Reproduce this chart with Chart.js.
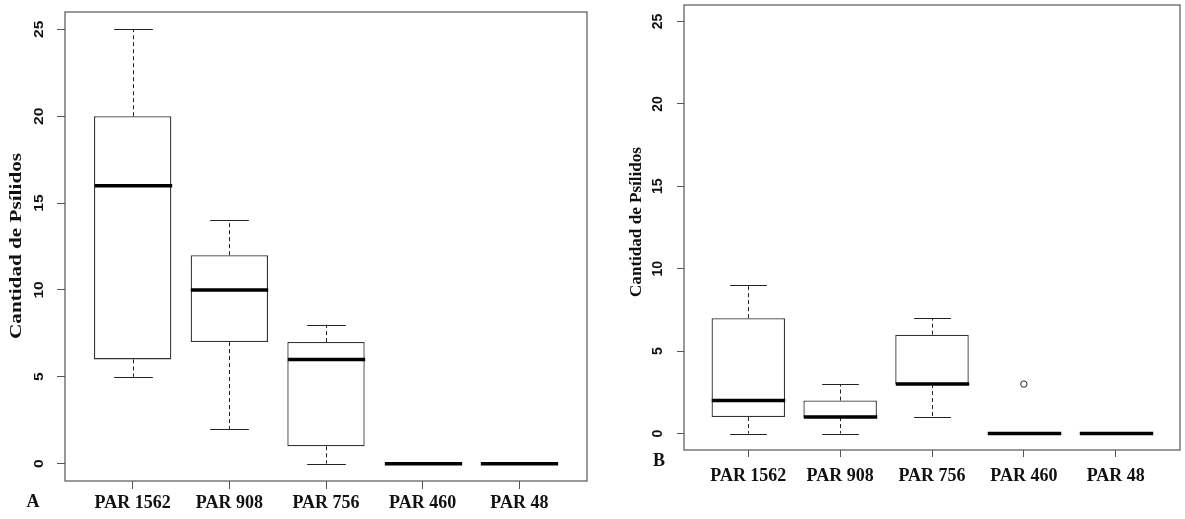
<!DOCTYPE html>
<html>
<head>
<meta charset="utf-8">
<script src="https://cdn.jsdelivr.net/npm/chart.js@4"></script>
<style>
  body { margin: 0; background: #fff; }
  canvas { position: absolute; top: 0; }
</style>
</head>
<body>
<canvas id="chartA" width="600" height="519" style="left:0"></canvas>
<canvas id="chartB" width="585" height="519" style="left:600px"></canvas>
<script>
var categories = ['PAR 1562', 'PAR 908', 'PAR 756', 'PAR 460', 'PAR 48'];
var yTicks = [0, 5, 10, 15, 20, 25];
var axisTitle = 'Cantidad de Psílidos';

// panel A
var minA = [5, 2, 0, 0, 0];
var q1A = [6, 7, 1, 0, 0];
var medA = [16, 10, 6, 0, 0];
var q3A = [20, 12, 7, 0, 0];
var maxA = [25, 14, 8, 0, 0];
var outCatA = [];
var outValA = [];

// panel B
var minB = [0, 0, 1, 0, 0];
var q1B = [1, 1, 3, 0, 0];
var medB = [2, 1, 3, 0, 0];
var q3B = [7, 2, 6, 0, 0];
var maxB = [9, 3, 7, 0, 0];
var outCatB = ['PAR 460'];
var outValB = [3];

function drawRot(ctx, text, x, y, font, stretch) {
  ctx.save();
  ctx.translate(x, y);
  ctx.rotate(-Math.PI / 2);
  ctx.font = font;
  var s = stretch;
  if (s < 0) s = -s / ctx.measureText(text).width; // negative = target length
  ctx.scale(s, 1);
  ctx.textAlign = 'center';
  ctx.textBaseline = 'middle';
  ctx.fillText(text, 0, 0);
  ctx.restore();
}

var boxExtras = {
  id: 'boxExtras',
  afterDatasetsDraw: function(chart, args, o) {
    var ctx = chart.ctx, a = chart.chartArea;
    var x = chart.scales.x, y = chart.scales.y;
    ctx.save();
    for (var i = 0; i < categories.length; i++) {
      var cx = Math.round(x.getPixelForValue(i + 1)) + 0.5;
      var half = x.getPixelForValue(i + 1.4) - x.getPixelForValue(i + 1);
      var cap = half / 2;
      ctx.strokeStyle = '#222';
      ctx.lineWidth = 1;
      ctx.setLineDash([4, 3]);
      ctx.beginPath();
      if (o.max[i] > o.q3[i]) {
        ctx.moveTo(cx, y.getPixelForValue(o.q3[i]));
        ctx.lineTo(cx, y.getPixelForValue(o.max[i]));
      }
      if (o.min[i] < o.q1[i]) {
        ctx.moveTo(cx, y.getPixelForValue(o.q1[i]));
        ctx.lineTo(cx, y.getPixelForValue(o.min[i]));
      }
      ctx.stroke();
      ctx.setLineDash([]);
      ctx.beginPath();
      if (o.max[i] > o.q3[i]) {
        var py = Math.round(y.getPixelForValue(o.max[i])) + 0.5;
        ctx.moveTo(cx - cap, py); ctx.lineTo(cx + cap, py);
      }
      if (o.min[i] < o.q1[i]) {
        var py2 = Math.round(y.getPixelForValue(o.min[i])) + 0.5;
        ctx.moveTo(cx - cap, py2); ctx.lineTo(cx + cap, py2);
      }
      ctx.stroke();
      // median
      ctx.strokeStyle = '#000';
      ctx.lineWidth = 3.5;
      ctx.beginPath();
      var my = y.getPixelForValue(o.med[i]);
      ctx.moveTo(cx - half, my); ctx.lineTo(cx + half, my);
      ctx.stroke();
    }
    // frame
    ctx.strokeStyle = '#555';
    ctx.lineWidth = 1.2;
    ctx.strokeRect(a.left, a.top, a.right - a.left, a.bottom - a.top);
    // y tick labels
    ctx.fillStyle = '#111';
    yTicks.forEach(function(v) {
      drawRot(ctx, String(v), a.left - o.tickDx, y.getPixelForValue(v), o.tickFont, o.tickStretch);
    });
    // axis title
    drawRot(ctx, axisTitle, o.titleX, o.titleY, o.titleFont, -o.titleLen);
    // panel letter
    ctx.font = 'bold 18px "Liberation Serif"';
    ctx.fillStyle = '#111';
    ctx.textAlign = 'center';
    ctx.textBaseline = 'middle';
    ctx.fillText(o.letter, o.letterX, o.letterY);
    ctx.restore();
  }
};

function makeChart(id, st, outCat, outVal, p) {
  var bars = categories.map(function(c, i) { return { x: i + 1, y: [st.q1[i], st.q3[i]] }; });
  var outs = outCat.map(function(c, k) { return { x: categories.indexOf(c) + 1, y: outVal[k] }; });
  var opts = Object.assign({}, st, p);
  return new Chart(document.getElementById(id).getContext('2d'), {
    type: 'bar',
    data: {
      datasets: [
        {
          type: 'scatter',
          data: outs,
          pointStyle: 'circle',
          pointRadius: 3.2,
          borderWidth: 1,
          borderColor: '#222',
          backgroundColor: '#fff'
        },
        {
          data: bars,
          backgroundColor: '#fff',
          borderColor: '#333',
          borderWidth: 1.3,
          borderSkipped: false,
          categoryPercentage: 0.8,
          barPercentage: 1
        }
      ]
    },
    options: {
      responsive: false,
      animation: false,
      devicePixelRatio: 1,
      layout: { padding: { left: 0, right: p.padRight, top: p.padTop, bottom: 0 } },
      plugins: { legend: { display: false }, tooltip: { enabled: false }, boxExtras: opts },
      scales: {
        x: {
          type: 'linear',
          min: 0.3,
          max: 5.7,
          offset: false,
          afterBuildTicks: function(s) { s.ticks = categories.map(function(c, i) { return { value: i + 1 }; }); },
          afterFit: function(s) { s.height = p.xHeight; },
          border: { display: false },
          grid: { offset: false, drawOnChartArea: false, drawTicks: true, tickLength: p.tickLen, color: '#555' },
          ticks: {
            autoSkip: false,
            maxRotation: 0,
            padding: p.xPad,
            color: '#111',
            font: { family: 'Liberation Serif', size: 18, weight: 'bold' },
            callback: function(v) { return categories[v - 1]; }
          }
        },
        y: {
          min: -1,
          max: 26,
          afterBuildTicks: function(s) { s.ticks = yTicks.map(function(v) { return { value: v }; }); },
          afterFit: function(s) { s.width = p.yWidth; },
          border: { display: false },
          grid: { drawOnChartArea: false, drawTicks: true, tickLength: p.tickLen, color: '#555' },
          ticks: { display: false }
        }
      }
    },
    plugins: [boxExtras]
  });
}

makeChart('chartA',
  { min: minA, q1: q1A, med: medA, q3: q3A, max: maxA },
  outCatA, outValA,
  { padRight: 13, padTop: 12, yWidth: 65, xHeight: 38, tickLen: 8, xPad: 4,
    tickDx: 26, tickFont: 'bold 13px "Liberation Sans"', tickStretch: 1.2,
    titleX: 16.5, titleY: 246, titleFont: 'bold 16px "Liberation Serif"', titleLen: 186,
    letter: 'A', letterX: 33, letterY: 502 });

makeChart('chartB',
  { min: minB, q1: q1B, med: medB, q3: q3B, max: maxB },
  outCatB, outValB,
  { padRight: 2, padTop: 3, yWidth: 84, xHeight: 69, tickLen: 7, xPad: 9,
    tickDx: 26, tickFont: 'bold 14px "Liberation Sans"', tickStretch: 1.0,
    titleX: 37, titleY: 222, titleFont: 'bold 16px "Liberation Serif"', titleLen: 150,
    letter: 'B', letterX: 59, letterY: 461 });
</script>
</body>
</html>
